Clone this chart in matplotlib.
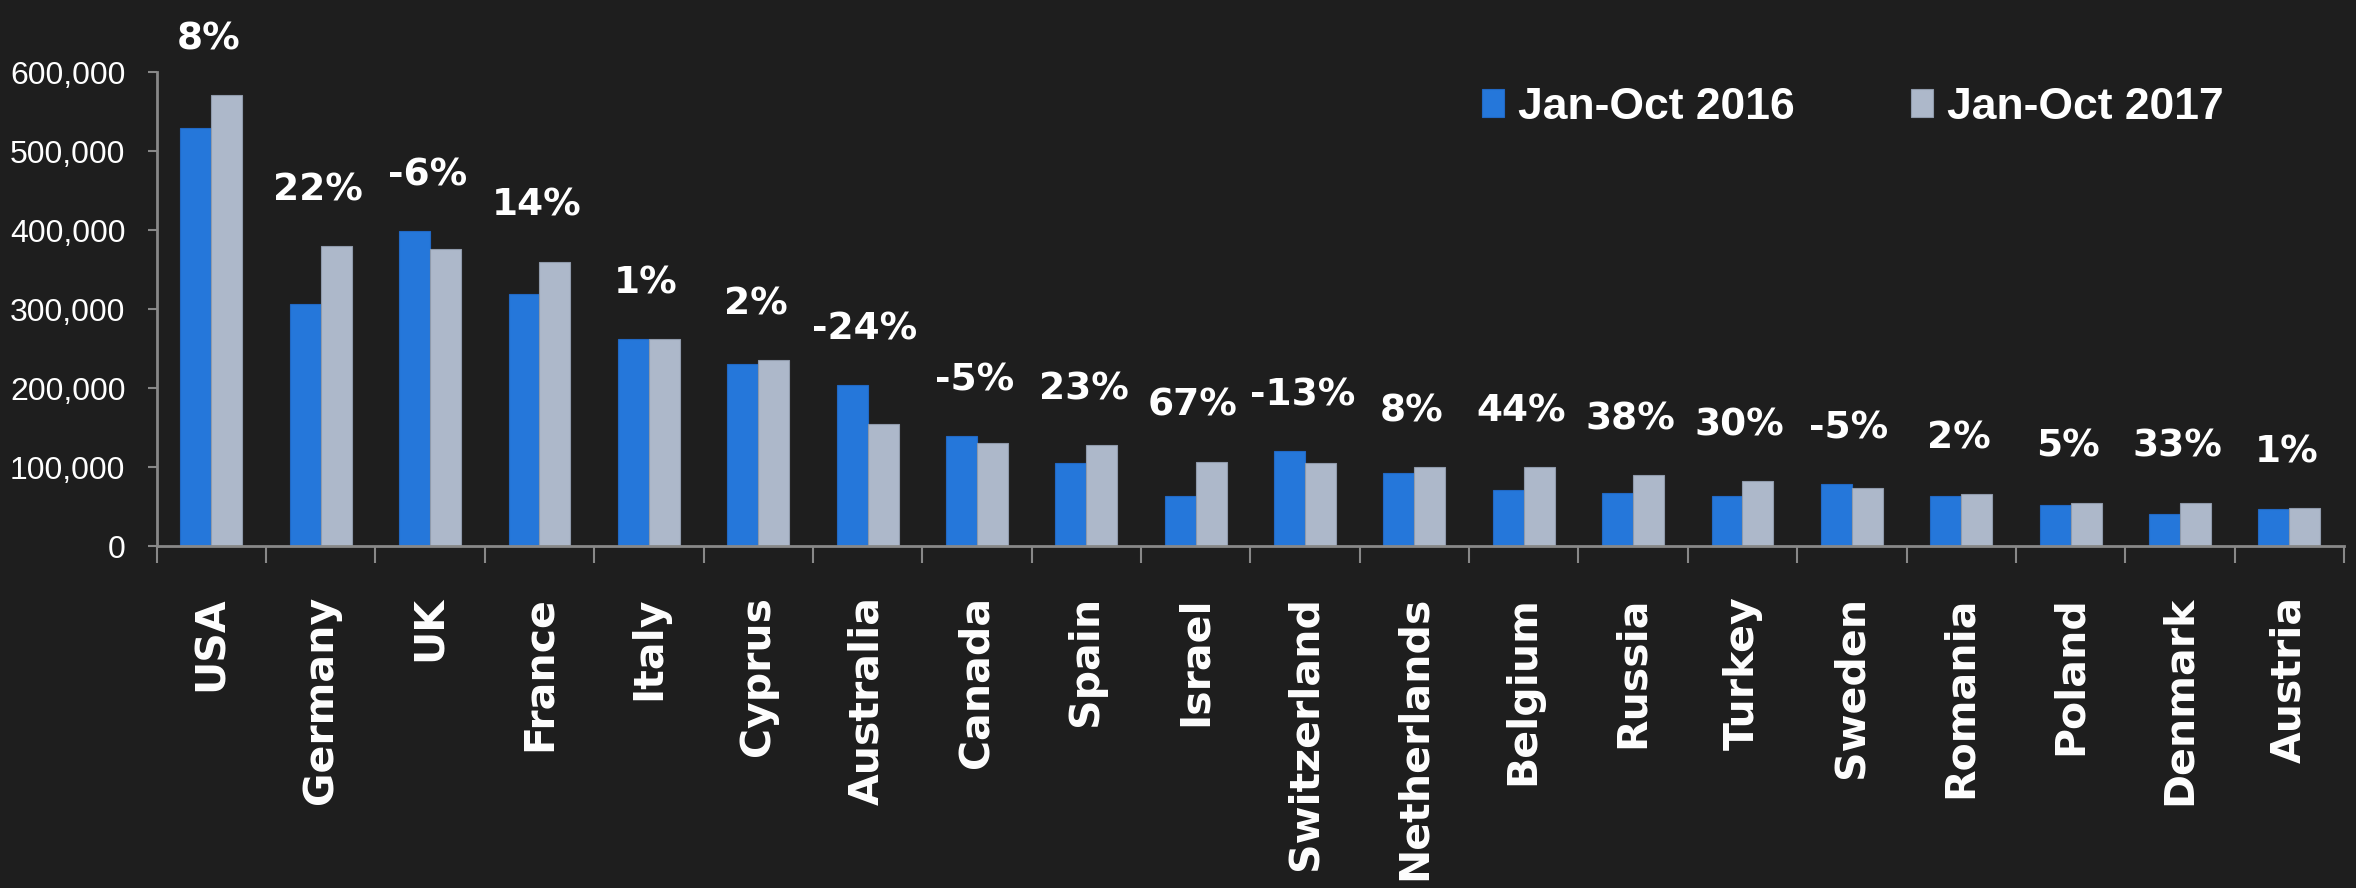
import matplotlib
matplotlib.use("Agg")
import matplotlib.pyplot as plt
import numpy as np

# data
countries = ["USA", "Germany", "UK", "France", "Italy", "Cyprus", "Australia",
             "Canada", "Spain", "Israel", "Switzerland", "Netherlands", "Belgium",
             "Russia", "Turkey", "Sweden", "Romania", "Poland", "Denmark", "Austria"]
jan_oct_2016 = [529000, 307000, 399000, 319000, 262000, 231000, 204000, 139000,
                105000, 63000, 120000, 93000, 71000, 67000, 63000, 78000, 63000,
                52000, 40000, 47000]
jan_oct_2017 = [571000, 380000, 376000, 360000, 262000, 235000, 154000, 131000,
                128000, 107000, 105000, 100000, 100000, 90000, 82000, 74000, 66000,
                55000, 55000, 48000]
change_labels = ["8%", "22%", "-6%", "14%", "1%", "2%", "-24%", "-5%", "23%", "67%",
                 "-13%", "8%", "44%", "38%", "30%", "-5%", "2%", "5%", "33%", "1%"]
series_names = ["Jan-Oct 2016", "Jan-Oct 2017"]
y_ticks = [0, 100000, 200000, 300000, 400000, 500000, 600000]

BG = "#1e1e1e"
BLUE = "#2577da"
GREY = "#adb8ca"
AXIS = "#888888"
NARROW = ["Liberation Sans", "DejaVu Sans"]

fig = plt.figure(figsize=(23.56, 8.88), dpi=100, facecolor=BG)
ax = fig.add_axes([0.0665, 0.3851, 0.9284, 0.5335], facecolor=BG)

x = np.arange(len(countries)) + 0.5
w = 0.283
ax.bar(x - w / 2, jan_oct_2016, width=w, color=BLUE, edgecolor="#2168c4",
       linewidth=0.8, label=series_names[0])
ax.bar(x + w / 2, jan_oct_2017, width=w, color=GREY, edgecolor="#8f9aab",
       linewidth=0.8, label=series_names[1])

# growth labels above each pair
for xi, a, b, txt in zip(x, jan_oct_2016, jan_oct_2017, change_labels):
    ax.annotate(txt, xy=(xi, max(a, b)), xytext=(-2, 33), textcoords="offset points",
                ha="center", va="baseline", color="white", fontsize=27,
                fontweight="bold", family="DejaVu Sans", annotation_clip=False)

ax.set_xlim(0, len(countries))
ax.set_ylim(0, 600000)

# y axis
ax.set_yticks(y_ticks)
ax.set_yticklabels([f"{v:,}" for v in y_ticks], family=NARROW, fontsize=23,
                   color="white")
ax.tick_params(axis="y", length=6.5, width=1.5, color=AXIS, pad=16)

# x axis: ticks at boundaries, labels at centres
ax.set_xticks(np.arange(len(countries) + 1))
ax.set_xticklabels([])
ax.tick_params(axis="x", which="major", length=12, width=1.5, color=AXIS)
ax.set_xticks(x, minor=True)
ax.set_xticklabels(countries, minor=True, rotation=90, fontsize=29.5,
                   fontweight="bold", color="white", family="DejaVu Sans",
                   ha="center", va="top")
ax.tick_params(axis="x", which="minor", length=0, pad=36)

for s in ["top", "right"]:
    ax.spines[s].set_visible(False)
for s in ["left", "bottom"]:
    ax.spines[s].set_color(AXIS)
    ax.spines[s].set_linewidth(2)

leg = fig.legend(loc="center left", bbox_to_anchor=(0.629, 0.8795), ncol=2,
                 frameon=False, borderpad=0, borderaxespad=0,
                 handlelength=0.5, handleheight=0.6, handletextpad=0.32,
                 columnspacing=2.6,
                 prop={"family": NARROW, "weight": "bold", "size": 32})
for t in leg.get_texts():
    t.set_color("white")

fig.savefig("out.png", dpi=100, facecolor=BG)
